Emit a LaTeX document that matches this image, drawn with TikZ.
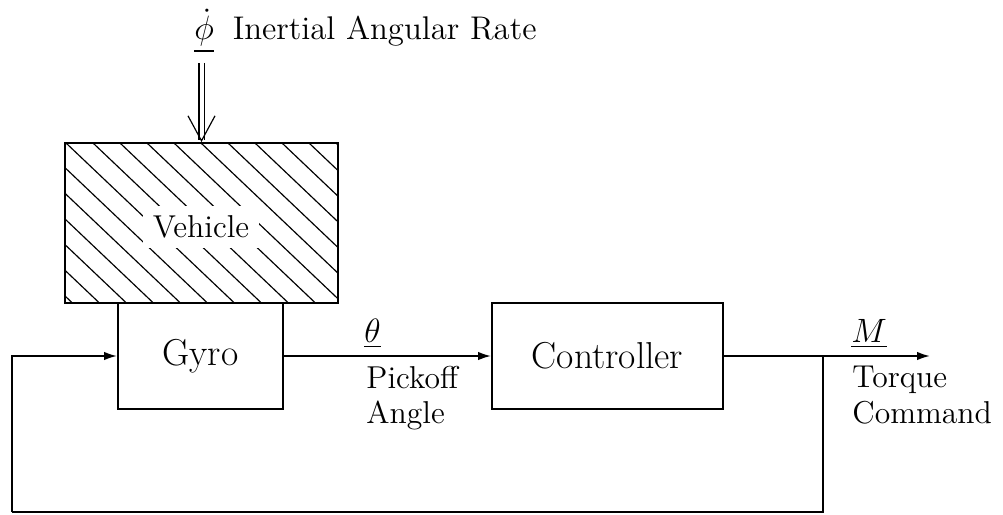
\documentclass[tikz,border=0pt]{standalone}
\usepackage{amsmath,amssymb}
\usepackage{tikz}
\usetikzlibrary{arrows.meta,calc,positioning}

\tikzset{
  blk/.style={draw,line width=0.8pt,inner sep=0pt,font=\fontsize{16}{19}\selectfont},
  sig/.style={line width=0.8pt,-{Latex[length=5.5pt,width=3.6pt]}},
  fbk/.style={line width=0.55pt},
  lbl/.style={inner sep=0pt,font=\fontsize{13.5}{15}\selectfont},
}

\begin{document}
\begin{tikzpicture}[x=0.015cm,y=-0.015cm]
\useasboundingbox (0,0) rectangle (1003,514);
% vehicle with hatching
\node[draw,line width=0.8pt,minimum width=4.095cm,minimum height=2.4cm,inner sep=0pt] (vehicle) at (201.5,223) {};
\begin{scope}
\clip (vehicle.south west) rectangle (vehicle.north east);
\foreach \k in {-7,...,10} \draw[line width=0.5pt] (93+27*\k,143) -- ++(200,190);
\end{scope}
\node[lbl,fill=white,inner sep=4pt] (vehtxt) at (201,227) {Vehicle};
% blocks
\node[blk,minimum width=2.475cm,minimum height=1.59cm] (gyro) at (200.5,356) {Gyro};
\node[blk,minimum width=3.465cm,minimum height=1.59cm] (ctrl) at (607.5,356) {Controller};
% input rate
\node[lbl,anchor=base west,font=\fontsize{14}{16}\selectfont] (rate) at (194,40) {$\underline{\dot\phi}$\hspace{8pt}Inertial Angular Rate};
\draw[line width=0.5pt,double,double distance=0.06cm,shorten <=4pt,shorten >=1pt] (vehicle.north |- rate.south) -- (vehicle.north);
\draw[line width=0.5pt,-{Straight Barb[length=0.375cm,width=0.405cm]}] ($(vehicle.north)+(0,-1)$) -- (vehicle.north);
% signals
\draw[sig] (gyro.east) -- (ctrl.west);
\node[lbl,anchor=south west] (theta) at (364,349) {$\underline{\theta}$};
\node[lbl,anchor=north west,align=left] (pick) at (366,366) {Pickoff\\Angle};
\coordinate (out) at (930,356);
\coordinate (split) at (823,356);
\coordinate (fb) at (12,512);
\draw[sig] (ctrl.east) -- (out);
\node[lbl,anchor=south west] (moment) at (851,349) {$\underline{M}$};
\node[lbl,anchor=north west,align=left] (torque) at (852,366) {Torque\\Command};
% feedback loop
\draw[fbk] (split) |- (fb);
\draw[sig] (fb) |- (gyro.west);
\end{tikzpicture}
\end{document}
